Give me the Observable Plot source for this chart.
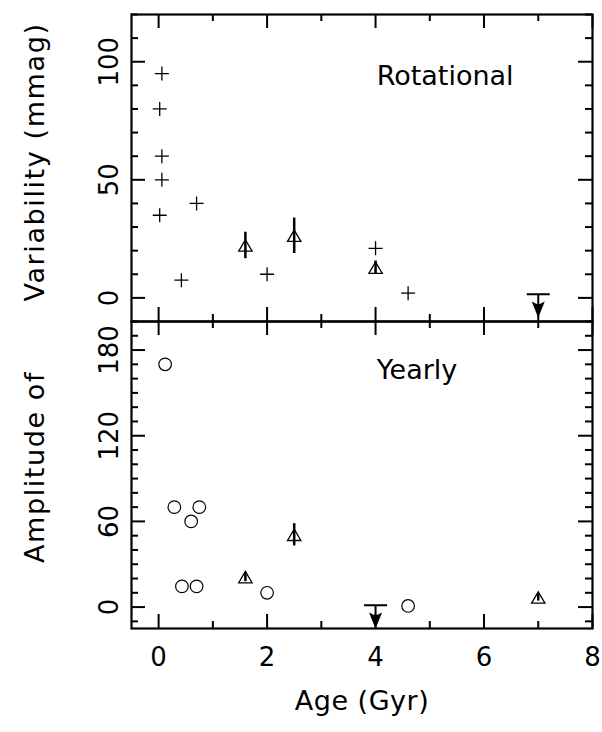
<!DOCTYPE html>
<html>
<head>
<meta charset="utf-8">
<script src="https://cdn.jsdelivr.net/npm/d3@7"></script>
<script src="https://cdn.jsdelivr.net/npm/@observablehq/plot@0.6"></script>
<style>
  body { margin: 0; background: #fff; }
  #chart { position: relative; width: 602px; height: 732px; background: #fff; }
  #chart svg { position: absolute; left: 0; overflow: visible; }
</style>
</head>
<body>
<div id="chart"></div>
<script>
// ---------------- data ----------------
// Top panel: Rotational
const rotCrossAge = [0.06, 0.02, 0.06, 0.06, 0.02, 0.70, 0.42, 2.0, 4.0, 4.6];
const rotCrossAmp = [95, 80, 60, 50, 35, 40, 7.5, 10, 21, 2];
const rotTriAge = [1.6, 2.5, 4.0];
const rotTriAmp = [22.2, 26.3, 12.8];
const rotTriErr = [5.6, 7.5, 2.8];
const rotLimitAge = [7.0];
const rotLimitAmp = [1.5];

// Bottom panel: Yearly
const yrCircleAge = [0.12, 0.29, 0.75, 0.60, 0.43, 0.70, 2.0, 4.6];
const yrCircleAmp = [170, 70, 70, 60, 14.5, 14.5, 10, 0.8];
const yrTriAge = [1.6, 2.5, 7.0];
const yrTriAmp = [21, 50.6, 6.7];
const yrTriErr = [3.2, 7.8, 2.5];
const yrLimitAge = [4.0];
const yrLimitAmp = [1.2];

// axes / labels
const ageDomain = [-0.5, 8];
const rotDomain = [-10, 120];
const yrDomain = [-15, 200];
const xMajorTicks = [0, 2, 4, 6, 8];
const xMinorTicks = [1, 3, 5, 7];
const rotMajorTicks = [0, 50, 100];
const rotMinorTicks = [-10, 10, 20, 30, 40, 60, 70, 80, 90, 110, 120];
const yrMajorTicks = [0, 60, 120, 180];
const yrMinorTicks = [-10, 10, 20, 30, 40, 50, 70, 80, 90, 100, 110, 130, 140, 150, 160, 170, 190];
const panelNames = ["Rotational", "Yearly"];
const panelNameAge = [4.02, 4.02];
const panelNameAmp = [94, 166];
const yTitles = ["Variability (mmag)", "Amplitude of"];
const xTitle = "Age (Gyr)";

// ---------------- tables ----------------
const zip = (xs, ys, es) => xs.map((x, i) => ({x, y: ys[i], e: es ? es[i] : 0}));
const rotCross = zip(rotCrossAge, rotCrossAmp);
const rotTri = zip(rotTriAge, rotTriAmp, rotTriErr);
const rotLimit = zip(rotLimitAge, rotLimitAmp);
const yrCircle = zip(yrCircleAge, yrCircleAmp);
const yrTri = zip(yrTriAge, yrTriAmp, yrTriErr);
const yrLimit = zip(yrLimitAge, yrLimitAmp);

// ---------------- symbols ----------------
const thinPlus = {draw(ctx, size) {
  const r = Math.sqrt(size / Math.PI);
  ctx.moveTo(-r, 0); ctx.lineTo(r, 0);
  ctx.moveTo(0, -r); ctx.lineTo(0, r);
}};
const openTriangle = {draw(ctx, size) {
  const r = Math.sqrt(size / Math.PI), h = r * 0.85;
  ctx.moveTo(0, -h); ctx.lineTo(r, h); ctx.lineTo(-r, h); ctx.closePath();
}};
const upperLimit = {draw(ctx, size) {
  const r = Math.sqrt(size / Math.PI);
  ctx.moveTo(-r, 0); ctx.lineTo(r, 0);
  ctx.moveTo(0, 0); ctx.lineTo(0, r * 1.2);
  ctx.moveTo(0, r * 1.8); ctx.lineTo(-r * 0.4, r * 0.8); ctx.lineTo(0, r * 1.0);
  ctx.lineTo(r * 0.4, r * 0.8); ctx.closePath();
}};

// ---------------- layout ----------------
const W = 602, ML = 131, MR = 10, MT = 14, FH = 307, MB = 104;
const FW = W - ML - MR;
const majorLen = 14, minorLen = 7;
const font = "DejaVu Sans, Liberation Sans, sans-serif";
const baseStyle = {fontFamily: font, fontSize: "26px", color: "black", background: "transparent", overflow: "visible"};

function boxTicks(yMajor, yMinor) {
  const s = {stroke: "black", strokeWidth: 2};
  return [
    Plot.tickY(yMajor, {y: d => d, insetRight: FW - majorLen, ...s}),
    Plot.tickY(yMajor, {y: d => d, insetLeft: FW - majorLen, ...s}),
    Plot.tickY(yMinor, {y: d => d, insetRight: FW - minorLen, ...s}),
    Plot.tickY(yMinor, {y: d => d, insetLeft: FW - minorLen, ...s}),
    Plot.tickX(xMajorTicks, {x: d => d, insetBottom: FH - majorLen, ...s}),
    Plot.tickX(xMajorTicks, {x: d => d, insetTop: FH - majorLen, ...s}),
    Plot.tickX(xMinorTicks, {x: d => d, insetBottom: FH - minorLen, ...s}),
    Plot.tickX(xMinorTicks, {x: d => d, insetTop: FH - minorLen, ...s}),
    Plot.frame({stroke: "black", strokeWidth: 2.2})
  ];
}

function yAxis(ticks, title, shift) {
  return [
    Plot.axisY({ticks, tickSize: 0, tickRotate: -90, tickPadding: 13.5, fontSize: 26, label: null}),
    Plot.text([title], {text: d => d, frameAnchor: "left", dx: -107, dy: shift, rotate: -90,
      lineAnchor: "top", textAnchor: "middle", fontSize: 27})
  ];
}

function triangleMarks(data) {
  return [
    Plot.ruleX(data, {x: "x", y1: d => d.y - d.e, y2: d => d.y + d.e, stroke: "black", strokeWidth: 2.5}),
    Plot.dot(data, {x: "x", y: "y", symbol: openTriangle, r: 6.7, fill: "none", stroke: "black", strokeWidth: 1.3})
  ];
}

function limitMarks(data) {
  return Plot.dot(data, {x: "x", y: "y", symbol: upperLimit, r: 11.5, fill: "black", stroke: "black", strokeWidth: 2});
}

const topPlot = Plot.plot({
  width: W, height: MT + FH,
  marginTop: MT, marginBottom: 0, marginLeft: ML, marginRight: MR,
  style: baseStyle,
  x: {domain: ageDomain, axis: null},
  y: {domain: rotDomain, axis: null},
  marks: [
    ...boxTicks(rotMajorTicks, rotMinorTicks),
    ...yAxis(rotMajorTicks, yTitles[0], -6),
    Plot.dot(rotCross, {x: "x", y: "y", symbol: thinPlus, r: 7, fill: "none", stroke: "black", strokeWidth: 1.3}),
    ...triangleMarks(rotTri),
    limitMarks(rotLimit),
    Plot.text([0], {x: i => panelNameAge[i], y: i => panelNameAmp[i], text: i => panelNames[i],
      textAnchor: "start", lineAnchor: "middle", fontSize: 27})
  ]
});

const bottomPlot = Plot.plot({
  width: W, height: FH + MB,
  marginTop: 0, marginBottom: MB, marginLeft: ML, marginRight: MR,
  style: baseStyle,
  x: {domain: ageDomain, axis: null},
  y: {domain: yrDomain, axis: null},
  marks: [
    ...boxTicks(yrMajorTicks, yrMinorTicks),
    ...yAxis(yrMajorTicks, yTitles[1], -8),
    Plot.axisX({ticks: xMajorTicks, tickSize: 0, tickPadding: 19, fontSize: 26, label: null}),
    Plot.text([xTitle], {text: d => d, frameAnchor: "bottom", dy: 73, lineAnchor: "middle",
      textAnchor: "middle", fontSize: 27}),
    Plot.dot(yrCircle, {x: "x", y: "y", symbol: "circle", r: 6.3, fill: "none", stroke: "black", strokeWidth: 1.2}),
    ...triangleMarks(yrTri),
    limitMarks(yrLimit),
    Plot.text([1], {x: i => panelNameAge[i], y: i => panelNameAmp[i], text: i => panelNames[i],
      textAnchor: "start", lineAnchor: "middle", fontSize: 27})
  ]
});

// widen the axis titles a little, like the original's wide glyphs
for (const svg of [topPlot, bottomPlot]) {
  d3.select(svg).selectAll("text")
    .filter(function() { return yTitles.includes(this.textContent) || this.textContent === xTitle; })
    .style("letter-spacing", function() { return this.textContent === xTitle ? "0.5px" : "1.6px"; });
}

topPlot.style.top = "0px";
bottomPlot.style.top = (MT + FH) + "px";
const chart = document.getElementById("chart");
chart.appendChild(topPlot);
chart.appendChild(bottomPlot);
</script>
</body>
</html>
